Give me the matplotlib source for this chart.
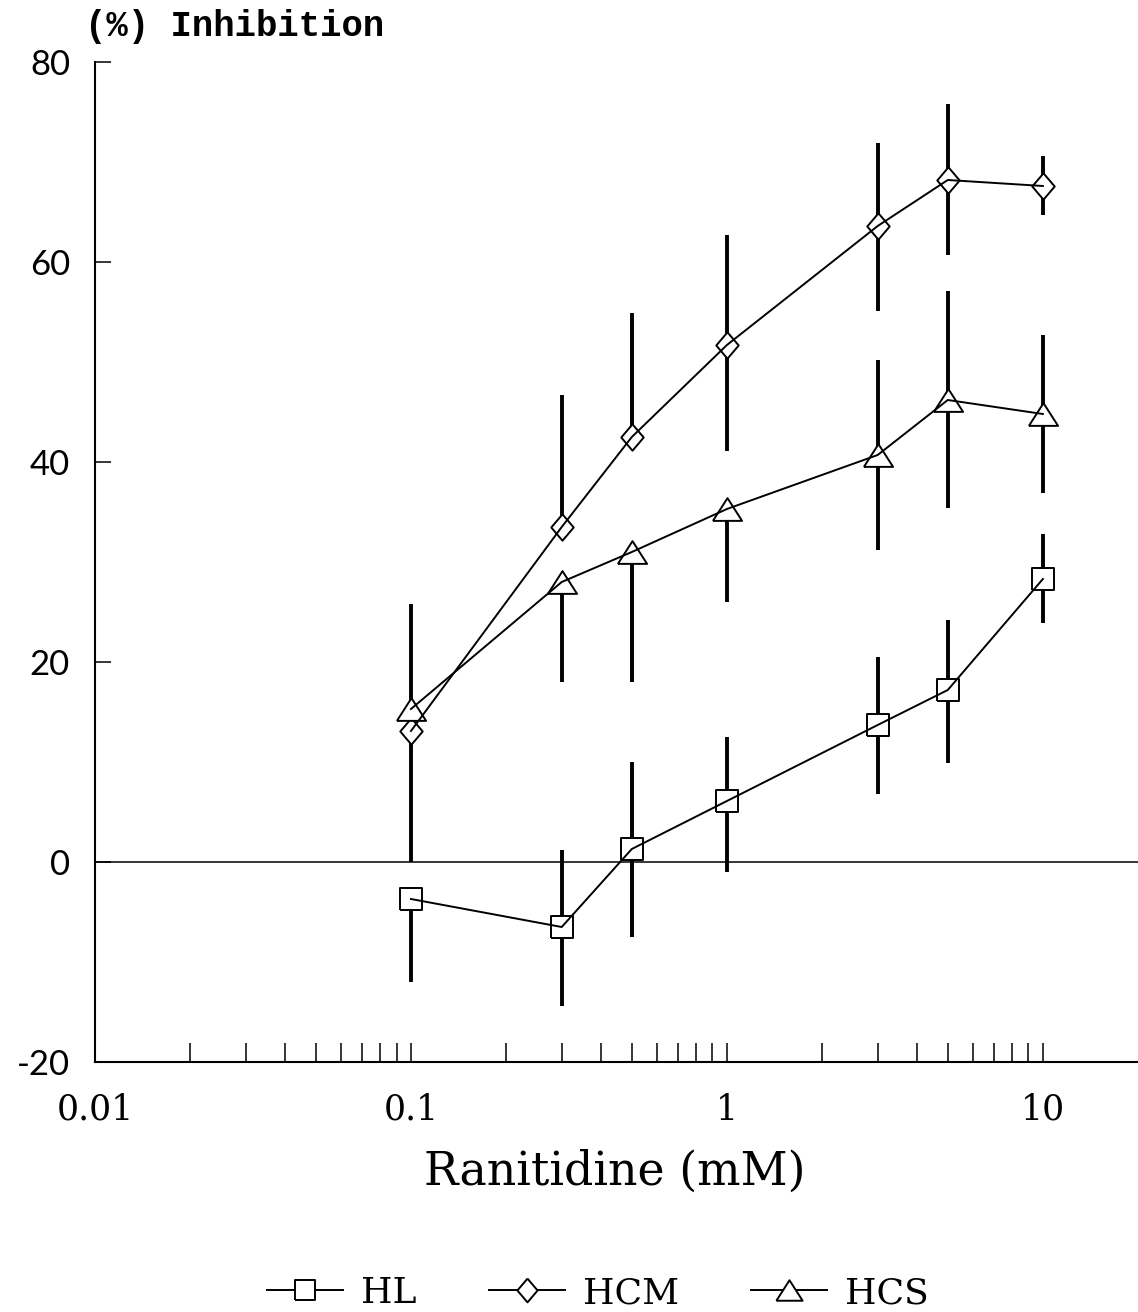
import numpy as np
import matplotlib
matplotlib.use("Agg")
import matplotlib.pyplot as plt
from matplotlib.lines import Line2D
from matplotlib.ticker import FixedLocator, NullFormatter

# Ranitidine concentration (mM)
conc = [0.1, 0.3, 0.5, 1, 3, 5, 10]

# Mean inhibition (%) per cell line
hl = [-3.7, -6.5, 1.3, 6.1, 13.7, 17.2, 28.3]
hcm = [13.1, 33.5, 42.5, 51.7, 63.6, 68.2, 67.6]
hcs = [15.3, 28.0, 31.0, 35.3, 40.7, 46.2, 44.8]

# Error bar extents below / above the mean (one-sided where bars would overlap)
hl_lo = [8.3, 7.9, 8.8, 7.1, 6.9, 7.3, 4.4]
hl_hi = [0.0, 7.7, 8.7, 6.4, 6.8, 7.0, 4.5]
hcm_lo = [13.1, 0.0, 0.0, 10.6, 8.5, 7.5, 2.9]
hcm_hi = [0.0, 13.2, 12.4, 11.0, 8.3, 7.6, 3.0]
hcs_lo = [0.0, 10.0, 13.0, 9.3, 9.5, 10.8, 7.9]
hcs_hi = [10.5, 0.0, 0.0, 0.0, 9.5, 10.9, 7.9]

series_names = ["HL", "HCM", "HCS"]
y_ticks = [-20, 0, 20, 40, 60, 80]
x_ticks = [0.01, 0.1, 1, 10]
x_ticklabels = ["0.01", "0.1", "1", "10"]

# marker shapes
square = [(-1, -1), (1, -1), (1, 1), (-1, 1), (-1, -1)]
diamond = [(0, 1), (0.85, 0), (0, -1), (-0.85, 0), (0, 1)]
triangle = [(-1, -0.78), (1, -0.78), (0, 0.78), (-1, -0.78)]

fig = plt.figure(figsize=(11.38, 13.12), dpi=100)
ax = fig.add_axes([95 / 1138, 250 / 1312, 1043 / 1138, 1000 / 1312])

ax.set_xscale("log")
ax.set_xlim(0.01, 20)
ax.set_ylim(-20, 80)

ax.axhline(0, color="black", lw=1.1, zorder=1)

data = [
    (hl, hl_lo, hl_hi, square, 16.5),
    (hcm, hcm_lo, hcm_hi, diamond, 19.0),
    (hcs, hcs_lo, hcs_hi, triangle, 21.0),
]

for vals, lo, hi, mk, ms in data:
    ax.errorbar(conc, vals, yerr=[lo, hi], fmt="none", ecolor="black",
                elinewidth=2.8, capsize=0, zorder=2)
    ax.plot(conc, vals, linestyle="none", marker=mk, markersize=ms,
            markerfacecolor="white", markeredgecolor="black",
            markeredgewidth=1.4, zorder=3)
    ax.plot(conc, vals, color="black", lw=1.4, zorder=4)

for s in ["top", "right"]:
    ax.spines[s].set_visible(False)
for s in ["left", "bottom"]:
    ax.spines[s].set_linewidth(1.5)

# x axis ticks
ax.xaxis.set_major_locator(FixedLocator(x_ticks))
ax.set_xticklabels(x_ticklabels, fontfamily="DejaVu Serif", fontsize=25)
minor = [k * 10.0 ** d for d in (-2, -1, 0) for k in range(2, 10)]
ax.xaxis.set_minor_locator(FixedLocator(minor))
ax.xaxis.set_minor_formatter(NullFormatter())
ax.tick_params(axis="x", which="both", direction="in", length=13.7,
               width=1.1, pad=22)

# y axis ticks
ax.set_yticks(y_ticks)
ax.set_yticklabels([str(v) for v in y_ticks], fontfamily="Lato", fontsize=25)
ax.tick_params(axis="y", which="major", direction="in", length=11.5,
               width=1.1, pad=18)
ax.tick_params(axis="y", which="minor", left=False)

fig.text(85 / 1138, 1 - 26 / 1312, "(%) Inhibition", family="Liberation Mono",
         fontweight="bold", fontsize=25.7, ha="left", va="center")
fig.text(615 / 1138, 1 - 1172 / 1312, "Ranitidine (mM)", family="DejaVu Serif",
         fontsize=33, ha="center", va="center")

handles = [
    Line2D([], [], color="black", lw=1.4, marker=mk, markersize=ms * 0.9,
           markerfacecolor="white", markeredgecolor="black", markeredgewidth=1.4)
    for _, _, _, mk, ms in data
]
fig.legend(handles, series_names, loc="center", ncol=3, frameon=False,
           bbox_to_anchor=(598 / 1138, 1 - 1293 / 1312),
           prop={"family": "DejaVu Serif", "size": 26},
           handlelength=2.1, handletextpad=0.5, columnspacing=2.0)

fig.savefig("out.png", dpi=100)
